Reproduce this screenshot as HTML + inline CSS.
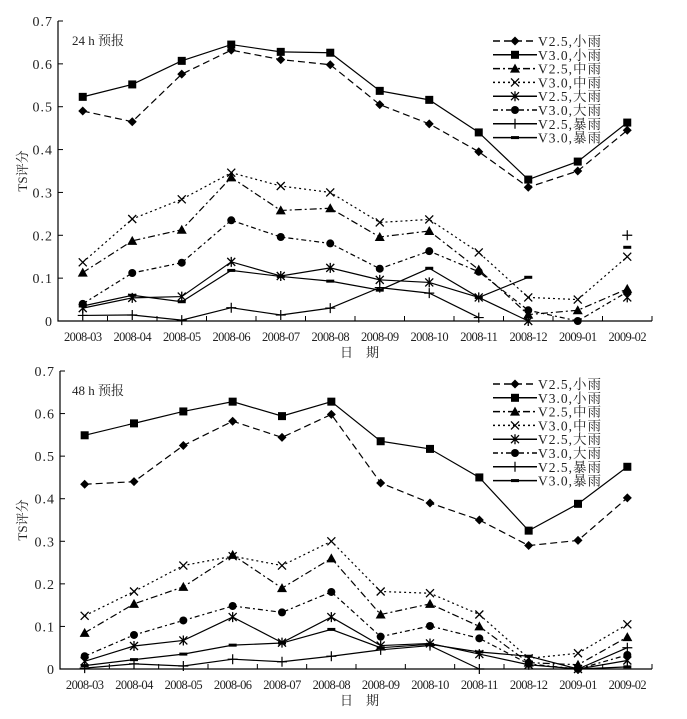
<!DOCTYPE html>
<html><head><meta charset="utf-8"><style>
body{margin:0;background:#fff}
svg{display:block}
text{font-family:"Liberation Serif","Noto Serif CJK SC",serif}
</style></head><body>
<svg id="c" width="687" height="719"></svg>
<script>
const categories=["2008-03","2008-04","2008-05","2008-06","2008-07","2008-08","2008-09","2008-10","2008-11","2008-12","2009-01","2009-02"];
const yTicks=[0,0.1,0.2,0.3,0.4,0.5,0.6,0.7];
const seriesNames=["V2.5,小雨","V3.0,小雨","V2.5,中雨","V3.0,中雨","V2.5,大雨","V3.0,大雨","V2.5,暴雨","V3.0,暴雨"];
const top_v25_light=[0.49,0.465,0.576,0.632,0.61,0.598,0.505,0.46,0.395,0.312,0.35,0.445];
const top_v30_light=[0.523,0.552,0.607,0.645,0.628,0.626,0.537,0.516,0.44,0.33,0.372,0.463];
const top_v25_mod=[0.113,0.187,0.213,0.335,0.258,0.263,0.196,0.21,0.12,0.015,0.025,0.075];
const top_v30_mod=[0.137,0.238,0.284,0.346,0.315,0.3,0.23,0.237,0.16,0.055,0.05,0.15];
const top_v25_heavy=[0.03,0.054,0.057,0.138,0.105,0.124,0.096,0.09,0.055,0.0,null,0.055];
const top_v30_heavy=[0.04,0.112,0.136,0.235,0.196,0.181,0.122,0.163,0.115,0.025,0.0,0.068];
const top_v25_storm=[0.013,0.014,0.002,0.031,0.014,0.03,0.078,0.065,0.008,null,null,0.2];
const top_v30_storm=[0.035,0.06,0.045,0.118,0.104,0.093,0.072,0.123,0.055,0.102,null,0.172];
const bot_v25_light=[0.434,0.44,0.525,0.582,0.544,0.598,0.437,0.39,0.35,0.29,0.302,0.402];
const bot_v30_light=[0.549,0.577,0.605,0.628,0.594,0.628,0.535,0.517,0.45,0.325,0.388,0.475];
const bot_v25_mod=[0.085,0.153,0.193,0.268,0.19,0.26,0.128,0.153,0.1,0.015,0.01,0.075];
const bot_v30_mod=[0.125,0.182,0.243,0.265,0.243,0.3,0.182,0.178,0.128,0.025,0.037,0.105];
const bot_v25_heavy=[0.018,0.054,0.067,0.122,0.062,0.122,0.055,0.06,0.035,0.01,0.0,0.02];
const bot_v30_heavy=[0.03,0.08,0.114,0.148,0.133,0.181,0.076,0.101,0.072,0.012,0.0,0.033];
const bot_v25_storm=[0.002,0.012,0.007,0.023,0.017,0.03,0.045,0.055,0.0,null,0.0,0.05];
const bot_v30_storm=[0.008,0.022,0.035,0.056,0.061,0.093,0.05,0.058,0.04,0.03,0.0,0.005];

const NS="http://www.w3.org/2000/svg";
const svg=document.getElementById('c');
function el(t,a,p){const e=document.createElementNS(NS,t);for(const k in a)e.setAttribute(k,a[k]);(p||svg).appendChild(e);return e;}
const styles=[
 {dash:"7,4",m:"diamond"},{dash:"",m:"square"},{dash:"7,3,2,3",m:"triangle"},{dash:"2,3",m:"x"},
 {dash:"",m:"star"},{dash:"5,3,2,3",m:"circle"},{dash:"",m:"plus"},{dash:"",m:"dash"}];
function marker(g,type,x,y){
 const s=4.5;let e;
 if(type=="diamond")e=el('polygon',{points:`${x},${y-s} ${x+s},${y} ${x},${y+s} ${x-s},${y}`,fill:'#000'},g);
 else if(type=="square")e=el('rect',{x:x-4,y:y-4,width:8,height:8,fill:'#000'},g);
 else if(type=="triangle")e=el('polygon',{points:`${x},${y-5} ${x+5},${y+4} ${x-5},${y+4}`,fill:'#000'},g);
 else if(type=="circle")e=el('circle',{cx:x,cy:y,r:4,fill:'#000'},g);
 else if(type=="x")e=el('path',{d:`M${x-4} ${y-4}L${x+4} ${y+4}M${x+4} ${y-4}L${x-4} ${y+4}`,stroke:'#000','stroke-width':1.3},g);
 else if(type=="star")e=el('path',{d:`M${x-4} ${y-4}L${x+4} ${y+4}M${x+4} ${y-4}L${x-4} ${y+4}M${x} ${y-5}L${x} ${y+5}`,stroke:'#000','stroke-width':1.3},g);
 else if(type=="plus")e=el('path',{d:`M${x-5} ${y}L${x+5} ${y}M${x} ${y-5}L${x} ${y+5}`,stroke:'#000','stroke-width':1.2},g);
 else e=el('rect',{x:x-4,y:y-1.5,width:8,height:3,fill:'#000'},g);
 
 
}
function panel(cfg){
 const g=el('g',{});
 
 
 const x0=cfg.x0,x1=652,yb=cfg.yb,yt=cfg.yt;
 const step=(x1-x0)/categories.length;
 const X=i=>x0+step*(i+0.5);
 const Y=v=>yb-(v/0.7)*(yb-yt);
 const ax=el('path',{d:`M${x0} ${yt}L${x0} ${yb}L${x1} ${yb}`,stroke:'#000',fill:'none','stroke-width':1.2},g);
 
 
 yTicks.forEach(v=>{
  el('line',{x1:x0,x2:x0+5,y1:Y(v),y2:Y(v),stroke:'#000'},g);
  const t=el('text',{x:x0-5,y:Y(v)+5,'text-anchor':'end','font-size':14,fill:'#222','letter-spacing':'1'},g);
  t.textContent=v==0?"0":v.toFixed(1);
  
  
 });
 for(let i=0;i<=categories.length;i++)el('line',{x1:x0+step*i,x2:x0+step*i,y1:yb,y2:yb-5,stroke:'#000'},g);
 categories.forEach((c,i)=>{
  const t=el('text',{x:X(i),y:yb+20,'text-anchor':'middle','font-size':12.5,fill:'#222','letter-spacing':'-0.6'},g);
  t.textContent=c;
  
  
 });
 const xt=el('text',{x:340,y:yb+36,'font-size':13,fill:'#222'},g);
 xt.textContent="日　期";
 
 
 const cy=(yt+yb)/2;
 const yl=el('text',{x:27,y:cy,'text-anchor':'middle','font-size':13,fill:'#222',transform:`rotate(-90 27 ${cy})`},g);
 yl.textContent="TS评分";
 
 
 const tt=el('text',{x:72,y:yt+24,'font-size':13,fill:'#222'},g);
 tt.textContent=cfg.title;
 tt.setAttribute('xml:space','preserve');
 
 
 cfg.series.forEach((vals,si)=>{
  const st=styles[si];
  let d="",pen=false;
  vals.forEach((v,i)=>{if(v==null){pen=false;return;}d+=(pen?"L":"M")+X(i)+" "+Y(v);pen=true;});
  const p=el('path',{d:d,fill:'none',stroke:'#000','stroke-width':1.2,'stroke-dasharray':st.dash},g);
  
  
  vals.forEach((v,i)=>{if(v!=null)marker(g,st.m,X(i),Y(v));});
 });
 seriesNames.forEach((n,i)=>{
  const ly=cfg.ly+i*13.8;
  const lg=el('g',{},g);
  
  
  el('line',{x1:493,x2:537,y1:ly,y2:ly,stroke:'#000','stroke-width':1.5,'stroke-dasharray':styles[i].dash},lg);
  marker(lg,styles[i].m,515,ly);
  const t=el('text',{x:538,y:ly+5,'font-size':13.5,fill:'#222','letter-spacing':'1'},lg);
  t.textContent=n;
 });
}
panel({name:'panel-24h',title:'24 h  预报',x0:58,yt:21,yb:321,ly:41,series:[top_v25_light,top_v30_light,top_v25_mod,top_v30_mod,top_v25_heavy,top_v30_heavy,top_v25_storm,top_v30_storm]});
panel({name:'panel-48h',title:'48 h  预报',x0:60,yt:371,yb:669,ly:384,series:[bot_v25_light,bot_v30_light,bot_v25_mod,bot_v30_mod,bot_v25_heavy,bot_v30_heavy,bot_v25_storm,bot_v30_storm]});
</script>
</body></html>
